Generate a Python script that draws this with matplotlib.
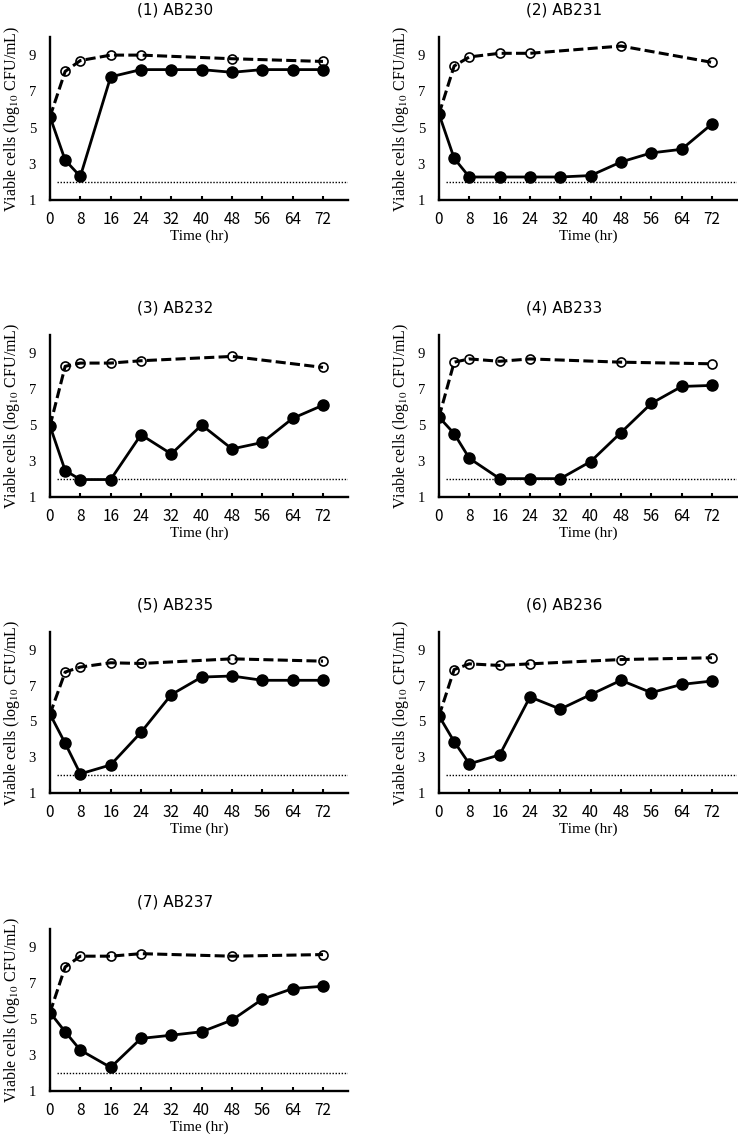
import numpy as np
import matplotlib
matplotlib.use("Agg")
from matplotlib import pyplot as plt

plt.rcParams["mathtext.fontset"] = "stix"

# sampling times (hr)
t_treated = [0, 4, 8, 16, 24, 32, 40, 48, 56, 64, 72]
t_control = [0, 4, 8, 16, 24, 48, 72]

titles = ["(1) AB230", "(2) AB231", "(3) AB232", "(4) AB233",
          "(5) AB235", "(6) AB236", "(7) AB237"]

treated_ab230 = [5.6, 3.2, 2.3, 7.8, 8.2, 8.2, 8.2, 8.05, 8.2, 8.2, 8.2]
treated_ab231 = [5.75, 3.3, 2.27, 2.27, 2.27, 2.27, 2.35, 3.1, 3.6, 3.8, 5.2]
treated_ab232 = [4.95, 2.47, 1.97, 1.97, 4.46, 3.39, 5.0, 3.67, 4.03, 5.37, 6.1]
treated_ab233 = [5.44, 4.52, 3.15, 2.02, 2.02, 2.02, 2.97, 4.58, 6.2, 7.14, 7.2]
treated_ab235 = [5.41, 3.78, 2.07, 2.57, 4.39, 6.5, 7.48, 7.54, 7.3, 7.3, 7.3]
treated_ab236 = [5.31, 3.87, 2.63, 3.13, 6.37, 5.69, 6.5, 7.3, 6.61, 7.07, 7.26]
treated_ab237 = [5.36, 4.29, 3.27, 2.31, 3.92, 4.1, 4.29, 4.94, 6.1, 6.69, 6.82]

control_ab230 = [5.6, 8.1, 8.7, 9.0, 9.0, 8.8, 8.65]
control_ab231 = [5.75, 8.4, 8.9, 9.1, 9.1, 9.5, 8.6]
control_ab232 = [4.95, 8.26, 8.44, 8.44, 8.57, 8.81, 8.2]
control_ab233 = [5.44, 8.49, 8.67, 8.54, 8.67, 8.49, 8.4]
control_ab235 = [5.41, 7.76, 8.04, 8.28, 8.24, 8.5, 8.37]
control_ab236 = [5.31, 7.9, 8.22, 8.13, 8.22, 8.46, 8.56]
control_ab237 = [5.36, 7.89, 8.49, 8.49, 8.63, 8.49, 8.58]

treated = [treated_ab230, treated_ab231, treated_ab232, treated_ab233,
           treated_ab235, treated_ab236, treated_ab237]
control = [control_ab230, control_ab231, control_ab232, control_ab233,
           control_ab235, control_ab236, control_ab237]

detection_limit = 2.0

W, H = 738, 1136
fig = plt.figure(figsize=(W / 100, H / 100), dpi=100)

col_left = [50, 439]
col_width = 298
rows = [(37, 200), (335, 497), (632, 793), (929, 1091)]

for i in range(len(titles)):
    r, c = divmod(i, 2)
    top, bottom = rows[r]
    ax = fig.add_axes([col_left[c] / W, 1 - bottom / H, col_width / W, (bottom - top) / H])

    ax.plot(t_control, control[i], color="black", lw=2.2, dashes=(3.3, 1.4),
            marker="o", markersize=6.5, mfc="none", mec="black", mew=1.2,
            markevery=list(range(1, len(t_control))), zorder=2)
    ax.plot(t_treated, treated[i], color="black", lw=2.0, marker="o",
            markersize=8, zorder=3)
    ax.hlines(detection_limit, 1.8, 78.6, colors="black", linestyles=(0, (1, 1.2)),
              lw=1.0, zorder=1)

    ax.set_xlim(0, 78.6)
    ax.set_ylim(1, 10)
    ax.set_xticks(np.arange(0, 73, 8))
    ax.set_yticks([1, 3, 5, 7, 9])
    ax.spines["top"].set_visible(False)
    ax.spines["right"].set_visible(False)
    for s in ["left", "bottom"]:
        ax.spines[s].set_linewidth(1.7)
    ax.tick_params(axis="x", direction="in", length=3, width=1.5, pad=8)
    ax.tick_params(axis="y", length=0, pad=10)
    for lab in ax.get_xticklabels():
        lab.set_fontfamily("Noto Sans CJK JP")
        lab.set_fontsize(11)
    for lab in ax.get_yticklabels():
        lab.set_fontfamily("Liberation Serif")
        lab.set_fontsize(10.5)

    ax.set_xlabel("Time (hr)", family="Liberation Serif", fontsize=11, labelpad=1)
    ax.set_ylabel(r"Viable cells (log$_{10}$ CFU/mL)", family="Liberation Serif",
                  fontsize=11.5, labelpad=5)

    ax.annotate(titles[i], xy=(0.42, 1), xycoords="axes fraction",
                xytext=(0, 19.5), textcoords="offset points",
                ha="center", va="center", family="DejaVu Sans", fontsize=11)

fig.savefig("out.png", dpi=100)
